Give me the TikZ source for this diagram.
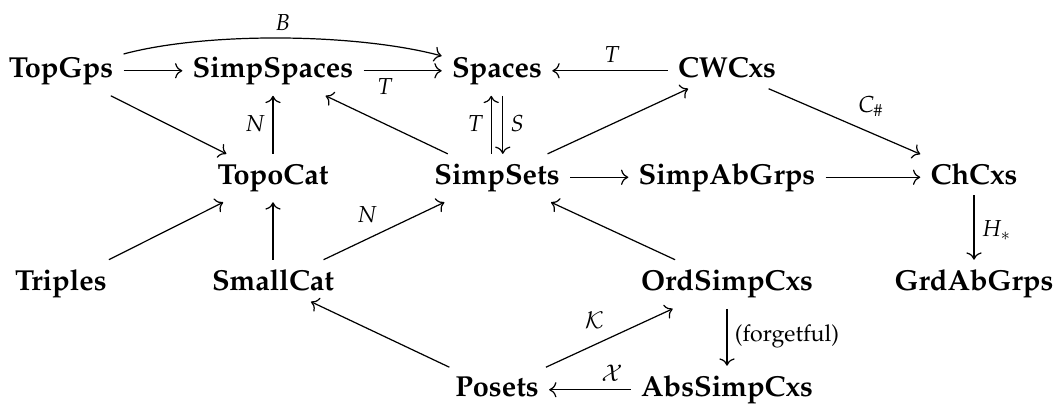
\documentclass[tikz,border=0pt]{standalone}
\usepackage[T1]{fontenc}
\usepackage{mathpazo}
\usetikzlibrary{cd}

\begin{document}
\begin{tikzpicture}[x=0.346pt,y=0.346pt,
  obj/.style={shape=asymmetrical rectangle, anchor=base, inner sep=3.4pt, font=\bfseries},
  arr/.style={->, line width=0.42pt},
  lab/.style={auto, inner sep=2.5pt, font=\footnotesize},
]
\useasboundingbox (0,0) rectangle (1055,-405);

% objects (placed by baseline)
\node[obj] (TopGps)     at (61,-78)    {TopGps};
\node[obj] (SimpSpaces) at (273,-78)   {SimpSpaces};
\node[obj] (Spaces)     at (497,-78)   {Spaces};
\node[obj] (CWCxs)      at (727,-78)   {CWCxs};
\node[obj] (TopoCat)    at (273,-184.5) {TopoCat};
\node[obj] (SimpSets)   at (497,-184.5) {SimpSets};
\node[obj] (SimpAbGrps) at (727,-184.5) {SimpAbGrps};
\node[obj] (ChCxs)      at (974,-184.5) {ChCxs};
\node[obj] (Triples)    at (61,-291)   {Triples};
\node[obj] (SmallCat)   at (273,-291)  {SmallCat};
\node[obj] (OrdSimpCxs) at (727,-291)  {OrdSimpCxs};
\node[obj] (GrdAbGrps)  at (974,-291)  {GrdAbGrps};
\node[obj] (Posets)     at (497,-397)  {Posets};
\node[obj] (AbsSimpCxs) at (727,-397)  {AbsSimpCxs};

% unlabelled morphisms
\draw[arr] (TopGps) -- (SimpSpaces);
\draw[arr] (TopGps) -- (TopoCat);
\draw[arr] (SimpSets) -- (SimpSpaces);
\draw[arr] (SimpSets) -- (CWCxs);
\draw[arr] (SimpSets) -- (SimpAbGrps);
\draw[arr] (SimpAbGrps) -- (ChCxs);
\draw[arr] (Triples) -- (TopoCat);
\draw[arr] (SmallCat) -- (TopoCat);
\draw[arr] (OrdSimpCxs) -- (SimpSets);
\draw[arr] (Posets) -- (SmallCat);

% labelled morphisms
\draw[arr] (TopGps) to[out=15,in=165,looseness=0.7] node[lab] {$B$} (Spaces);

\draw[arr] (SimpSpaces) -- (Spaces);
\path (SimpSpaces.center) -- node[lab,swap] {$T$} (Spaces.center);

\draw[arr] (CWCxs) -- (Spaces);
\path (CWCxs.center) -- node[lab,swap] {$T$} (Spaces.center);

\draw[arr] (TopoCat) -- (SimpSpaces);
\path (TopoCat.center) -- node[lab] {$N$} (SimpSpaces.center);

\draw[arr] ([xshift=-2pt]SimpSets.north) -- ([xshift=-2pt]Spaces.south);
\path ([xshift=-2pt]SimpSets.center) -- node[lab] {$T$} ([xshift=-2pt]Spaces.center);
\draw[arr] ([xshift=2pt]Spaces.south) -- ([xshift=2pt]SimpSets.north);
\path ([xshift=2pt]Spaces.center) -- node[lab] {$S$} ([xshift=2pt]SimpSets.center);

\draw[arr] (CWCxs) -- (ChCxs);
\path (CWCxs.center) -- node[lab] {$C_\#$} (ChCxs.center);

\draw[arr] (ChCxs) -- (GrdAbGrps);
\path (ChCxs.center) -- node[lab] {$H_*$} (GrdAbGrps.center);

\draw[arr] (SmallCat) -- (SimpSets);
\path (SmallCat.center) -- node[lab] {$N$} (SimpSets.center);

\draw[arr] (Posets) -- (OrdSimpCxs);
\path (Posets.center) -- node[lab] {$\mathcal{K}$} (OrdSimpCxs.center);

\draw[arr] (OrdSimpCxs) -- (AbsSimpCxs);
\path (OrdSimpCxs.center) -- node[lab] {(forgetful)} (AbsSimpCxs.center);

\draw[arr] (AbsSimpCxs) -- (Posets);
\path (AbsSimpCxs.center) -- node[lab,swap] {$\mathcal{X}$} (Posets.center);
\end{tikzpicture}
\end{document}
